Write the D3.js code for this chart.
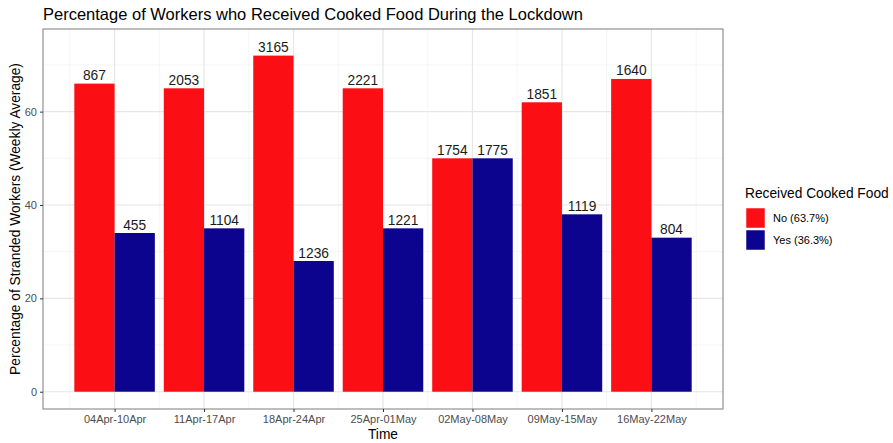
<!DOCTYPE html>
<html><head><meta charset="utf-8">
<script src="https://cdn.jsdelivr.net/npm/d3@7"></script>
<style>body{margin:0;background:#fff;font-family:"Liberation Sans",Arial,sans-serif;}</style>
</head><body>
<svg id="c" width="893" height="443"></svg>
<script>
const categories = ["04Apr-10Apr","11Apr-17Apr","18Apr-24Apr","25Apr-01May","02May-08May","09May-15May","16May-22May"];
const seriesNames = ["No (63.7%)","Yes (36.3%)"];
const noPct = [66,65,72,65,50,62,67];
const yesPct = [34,35,28,35,50,38,33];
const noCount = [867,2053,3165,2221,1754,1851,1640];
const yesCount = [455,1104,1236,1221,1775,1119,804];
const yTicks = [0,20,40,60];
const yMinor = [10,30,50,70];
const colors = ["#fb0e14","#0c048e"];

const svg = d3.select("#c");
const P = {l:43, r:723, t:29, b:409};
const step = (P.r-P.l)/7.6;
const x = d3.scaleLinear().domain([0.2,7.8]).range([P.l,P.r]);
const y = d3.scaleLinear().domain([-3.7,77.7]).range([P.b,P.t]);
const dodge = 0.9;

svg.append("text").attr("x",43).attr("y",20).attr("font-size",16.5).attr("fill","#000")
  .text("Percentage of Workers who Received Cooked Food During the Lockdown");

const g = svg.append("g");
g.append("rect").attr("x",P.l).attr("y",P.t).attr("width",P.r-P.l).attr("height",P.b-P.t).attr("fill","#fff");
// minor grid
yMinor.forEach(v=>g.append("line").attr("x1",P.l).attr("x2",P.r).attr("y1",y(v)).attr("y2",y(v)).attr("stroke","#f2f2f2").attr("stroke-width",0.8));
d3.range(0.5,8,1).forEach(v=>g.append("line").attr("y1",P.t).attr("y2",P.b).attr("x1",x(v)).attr("x2",x(v)).attr("stroke","#f2f2f2").attr("stroke-width",0.8));
// major grid
yTicks.forEach(v=>g.append("line").attr("x1",P.l).attr("x2",P.r).attr("y1",y(v)).attr("y2",y(v)).attr("stroke","#e6e6e6").attr("stroke-width",1.2));
categories.forEach((c,i)=>g.append("line").attr("y1",P.t).attr("y2",P.b).attr("x1",x(i+1)).attr("x2",x(i+1)).attr("stroke","#e6e6e6").attr("stroke-width",1.2));

const series = [noPct, yesPct];
const counts = [noCount, yesCount];
series.forEach((vals,s)=>{
  const bw = dodge/2;
  vals.forEach((v,i)=>{
    const x0 = (i+1) - dodge/2 + s*bw;
    g.append("rect").attr("x",x(x0)).attr("width",x(x0+bw)-x(x0))
      .attr("y",y(v)).attr("height",y(0)-y(v)).attr("fill",colors[s]);
    g.append("text").attr("x",x(x0+bw/2)).attr("y",y(v)-3.5).attr("text-anchor","middle")
      .attr("font-size",13.75).attr("fill","#1a1a1a").text(counts[s][i]);
  });
});

// border
g.append("rect").attr("x",P.l).attr("y",P.t).attr("width",P.r-P.l).attr("height",P.b-P.t).attr("fill","none").attr("stroke","#888").attr("stroke-width",1.1);

// axes
const yAxis = d3.axisLeft(y).tickValues(yTicks).tickSize(3).tickPadding(3);
const ya = svg.append("g").attr("transform",`translate(${P.l},0)`).call(yAxis);
const xAxis = d3.axisBottom(x).tickValues(d3.range(1,8)).tickFormat(d=>categories[d-1]).tickSize(3).tickPadding(3);
const xa = svg.append("g").attr("transform",`translate(0,${P.b})`).call(xAxis);
[ya,xa].forEach(a=>{
  a.select(".domain").remove();
  a.selectAll(".tick line").attr("stroke","#333");
  a.selectAll(".tick text").attr("fill","#4d4d4d").attr("font-size",11).attr("font-family","Liberation Sans, Arial, sans-serif");
});

svg.append("text").attr("x",(P.l+P.r)/2).attr("y",439).attr("text-anchor","middle").attr("font-size",13.75).text("Time");
svg.append("text").attr("transform",`translate(20,${(P.t+P.b)/2}) rotate(-90)`).attr("text-anchor","middle").attr("font-size",13.75)
  .text("Percentage of Stranded Workers (Weekly Average)");

// legend
const lg = svg.append("g");
lg.append("text").attr("x",745).attr("y",198).attr("font-size",13.75).text("Received Cooked Food");
seriesNames.forEach((n,i)=>{
  lg.append("rect").attr("x",746).attr("y",208+i*22).attr("width",19).attr("height",20).attr("fill",colors[i]).attr("stroke","#fff").attr("stroke-width",0.5);
  lg.append("text").attr("x",773).attr("y",222+i*22).attr("font-size",11).attr("fill","#000").text(n);
});
</script>
</body></html>
